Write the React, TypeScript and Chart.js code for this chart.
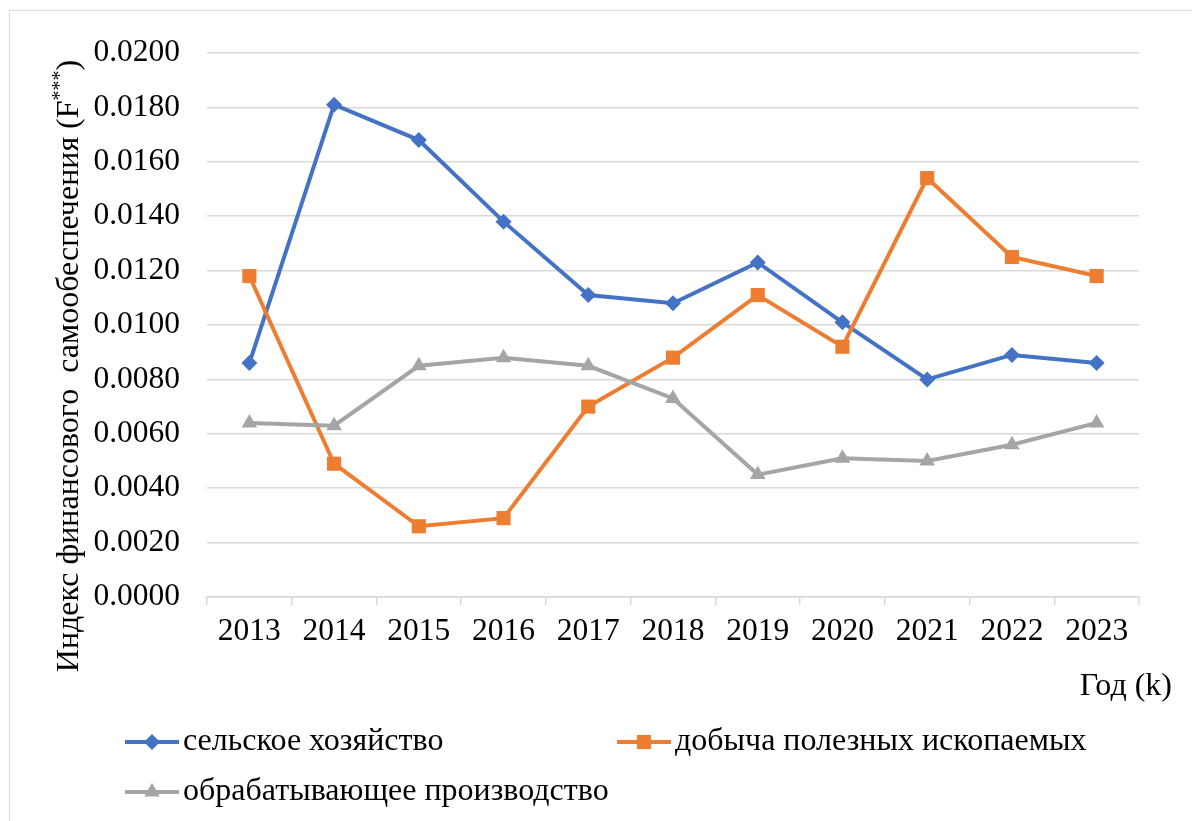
import React, { useEffect, useRef } from 'react';
import { Chart, registerables } from 'chart.js';

Chart.register(...registerables);

const years = ['2013', '2014', '2015', '2016', '2017', '2018', '2019', '2020', '2021', '2022', '2023'];
const agriculture = [0.0086, 0.0181, 0.0168, 0.0138, 0.0111, 0.0108, 0.0123, 0.0101, 0.0080, 0.0089, 0.0086];
const mining = [0.0118, 0.0049, 0.0026, 0.0029, 0.0070, 0.0088, 0.0111, 0.0092, 0.0154, 0.0125, 0.0118];
const manufacturing = [0.0064, 0.0063, 0.0085, 0.0088, 0.0085, 0.0073, 0.0045, 0.0051, 0.0050, 0.0056, 0.0064];
const seriesLabels = ['сельское хозяйство', 'добыча полезных ископаемых', 'обрабатывающее производство'];
const yMin = 0;
const yMax = 0.02;
const yStep = 0.002;
const xTitle = 'Год (k)';
const yTitleMain = 'Индекс финансового  самообеспечения (F';
const yTitleSup = '***';
const yTitleEnd = ')';

const FONT_FAMILY = '"Liberation Serif", "Times New Roman", Tinos, "DejaVu Serif", serif';
const TICK_SIZE = 31.5;
const TEXT_SIZE = 32;
const GRID = '#d9d9d9';

function drawMarker(ctx: CanvasRenderingContext2D, style: string, r: number, x: number, y: number) {
  ctx.beginPath();
  if (style === 'rectRot') {
    ctx.moveTo(x, y - r);
    ctx.lineTo(x + r, y);
    ctx.lineTo(x, y + r);
    ctx.lineTo(x - r, y);
  } else if (style === 'rect') {
    const h = r * Math.SQRT1_2;
    ctx.rect(x - h, y - h, 2 * h, 2 * h);
  } else {
    const s = Math.sqrt(3) / 2;
    ctx.moveTo(x, y - r);
    ctx.lineTo(x + r * s, y + r / 2);
    ctx.lineTo(x - r * s, y + r / 2);
  }
  ctx.closePath();
  ctx.fill();
}

const overlayPlugin = {
  id: 'overlay',
  afterDraw(chart: any) {
    const ctx = chart.ctx as CanvasRenderingContext2D;
    const area = chart.chartArea;
    ctx.save();
    ctx.fillStyle = '#000';
    const mainFont = `${TEXT_SIZE}px ${FONT_FAMILY}`;
    const supFont = `${Math.round(TEXT_SIZE * 0.62)}px ${FONT_FAMILY}`;
    ctx.font = mainFont;

    // x axis title
    ctx.textAlign = 'right';
    ctx.textBaseline = 'middle';
    ctx.fillText(xTitle, area.right + 33, area.bottom + 90);

    // y axis title (rotated, with superscript)
    const w1 = ctx.measureText(yTitleMain).width;
    const w3 = ctx.measureText(yTitleEnd).width;
    ctx.font = supFont;
    const w2 = ctx.measureText(yTitleSup).width;
    const total = w1 + w2 + w3;
    ctx.save();
    ctx.translate(78, 366);
    ctx.rotate(-Math.PI / 2);
    ctx.textAlign = 'left';
    ctx.textBaseline = 'alphabetic';
    let x = -total / 2;
    ctx.font = mainFont;
    ctx.fillText(yTitleMain, x, 0);
    x += w1;
    ctx.font = supFont;
    ctx.fillText(yTitleSup, x, -12);
    x += w2;
    ctx.font = mainFont;
    ctx.fillText(yTitleEnd, x, 0);
    ctx.restore();

    // legend
    const cols = [125, 617];
    const rows = [742, 792];
    chart.data.datasets.forEach((ds: any, i: number) => {
      const x0 = cols[i % 2];
      const y0 = rows[Math.floor(i / 2)];
      ctx.strokeStyle = ds.borderColor;
      ctx.lineWidth = ds.borderWidth;
      ctx.beginPath();
      ctx.moveTo(x0, y0);
      ctx.lineTo(x0 + 54, y0);
      ctx.stroke();
      ctx.fillStyle = ds.backgroundColor;
      drawMarker(ctx, ds.pointStyle, ds.pointRadius, x0 + 27, y0);
      ctx.fillStyle = '#000';
      ctx.font = mainFont;
      ctx.textAlign = 'left';
      ctx.textBaseline = 'middle';
      ctx.fillText(ds.label, x0 + 58, y0);
    });
    ctx.restore();
  },
};

export default function App() {
  const canvasRef = useRef<HTMLCanvasElement | null>(null);

  useEffect(() => {
    if (!canvasRef.current) return;
    let chart: any = null;
    let cancelled = false;
    const mk = (label: string, data: number[], color: string, style: string, r: number) => ({
      label,
      data,
      borderColor: color,
      backgroundColor: color,
      borderWidth: 4,
      pointStyle: style,
      pointRadius: r,
      pointHoverRadius: r,
      pointBorderWidth: 0,
      tension: 0,
    });
    const build = () => {
      if (cancelled || !canvasRef.current) return;
      chart = new Chart(canvasRef.current, {
        type: 'line',
        data: {
          labels: years,
          datasets: [
            { ...mk(seriesLabels[0], agriculture, '#4472C4', 'rectRot', 8), order: 2 },
            { ...mk(seriesLabels[1], mining, '#ED7D31', 'rect', 10), order: 1 },
            { ...mk(seriesLabels[2], manufacturing, '#A5A5A5', 'triangle', 9), order: 0 },
          ],
        },
        options: {
          responsive: false,
          animation: false,
          layout: { padding: { left: 0, top: 53, right: 53, bottom: 0 } },
          plugins: {
            legend: { display: false },
            tooltip: { enabled: false },
          },
          scales: {
            x: {
              offset: true,
              grid: {
                offset: true,
                drawOnChartArea: false,
                drawTicks: true,
                tickLength: 8,
                color: GRID,
                lineWidth: 1.5,
              },
              border: { display: true, color: GRID, width: 1.5 },
              ticks: {
                color: '#000',
                font: { family: FONT_FAMILY, size: TICK_SIZE },
                padding: 8,
                maxRotation: 0,
                autoSkip: false,
              },
              afterFit: (scale: any) => {
                scale.height = 224;
              },
            },
            y: {
              min: yMin,
              max: yMax,
              grid: { color: GRID, lineWidth: 1.5, drawTicks: false },
              border: { display: false },
              ticks: {
                stepSize: yStep,
                color: '#000',
                padding: 27,
                font: { family: FONT_FAMILY, size: TICK_SIZE },
                callback: (v: any) => Number(v).toFixed(4),
              },
              afterFit: (scale: any) => {
                scale.width = 207;
              },
            },
          },
        },
        plugins: [overlayPlugin],
      } as any);
    };
    const fonts: any = (document as any).fonts;
    if (fonts && fonts.load) {
      Promise.all([
        fonts.load(`${TEXT_SIZE}px "Liberation Serif"`, 'Индекс 0123'),
        fonts.load(`20px "Liberation Serif"`, '***'),
      ])
        .catch(() => null)
        .then(build);
    } else {
      build();
    }
    return () => {
      cancelled = true;
      if (chart) chart.destroy();
    };
  }, []);

  return (
    <div style={{ position: 'fixed', left: 0, top: 0, width: 1192, height: 821, background: '#fff', overflow: 'hidden' }}>
      <div
        style={{
          position: 'absolute',
          left: 9,
          top: 10,
          width: 1300,
          height: 900,
          borderLeft: `1.5px solid ${GRID}`,
          borderTop: `1.5px solid ${GRID}`,
        }}
      />
      <span style={{ position: 'absolute', left: -9999, fontFamily: FONT_FAMILY }}>Индекс 0123</span>
      <canvas ref={canvasRef} width={1192} height={821} style={{ position: 'absolute', left: 0, top: 0 }} />
    </div>
  );
}
